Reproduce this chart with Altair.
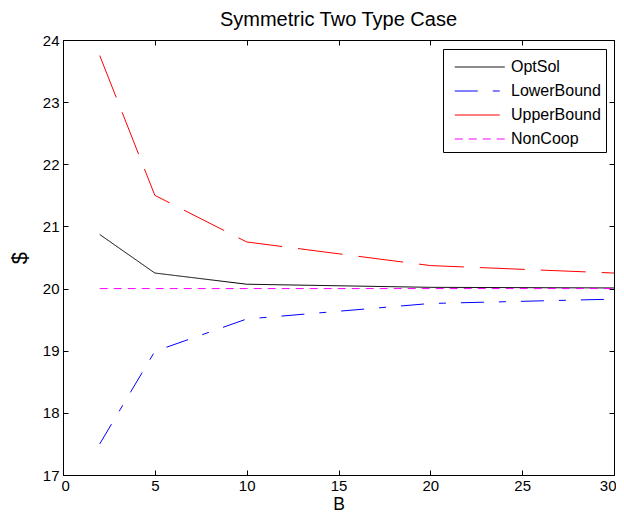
import altair as alt
import pandas as pd

B = [2, 5, 10, 20, 30]
opt_sol = [20.87, 20.25, 20.07, 20.02, 20.01]
lower_bound = [17.5, 18.99, 19.51, 19.76, 19.83]
upper_bound = [23.75, 21.5, 20.75, 20.37, 20.25]
non_coop = [20.0, 20.0, 20.0, 20.0, 20.0]

x_ticks = [0, 5, 10, 15, 20, 25, 30]
y_ticks = [17, 18, 19, 20, 21, 22, 23, 24]

series_names = ["OptSol", "LowerBound", "UpperBound", "NonCoop"]
series_colors = ["#000000", "#0000ff", "#ff0000", "#ff00ff"]
series_dash = [[1, 0], [23, 15, 7, 15], [45, 16], [8, 6]]

rows = []
for name, vals in zip(series_names, [opt_sol, lower_bound, upper_bound, non_coop]):
    for b, v in zip(B, vals):
        rows.append({"B": b, "value": v, "series": name})
df = pd.DataFrame(rows)

FONT = "Liberation Sans"

xscale = alt.Scale(domain=[0, 30], nice=False, zero=False)
yscale = alt.Scale(domain=[17, 24], nice=False, zero=False)

legend_cfg = dict(title=None, orient="none", legendX=380, legendY=9,
                  symbolType="M-0.5,0H3.5", symbolSize=625,
                  symbolStrokeWidth=1, labelFontSize=16,
                  labelFont=FONT, labelColor="black",
                  strokeColor="black", fillColor="white",
                  padding=5, rowPadding=3, labelOffset=37)

main = alt.Chart(df).mark_line(strokeWidth=1, clip=True).encode(
    x=alt.X("B:Q", scale=xscale,
            axis=alt.Axis(title="B", values=x_ticks, orient="bottom",
                          offset=-5, tickSize=5, domain=False, grid=False,
                          labelPadding=3, titlePadding=2, labelFontSize=15,
                          titleFontSize=17.5, titleFontWeight="normal",
                          labelColor="black", titleColor="black", tickColor="black",
                          labelFont=FONT, titleFont=FONT,
                          labelFlush=True, labelFlushOffset=2)),
    y=alt.Y("value:Q", scale=yscale,
            axis=alt.Axis(title="$", values=y_ticks, orient="left",
                          offset=-5, tickSize=5, domain=False, grid=False,
                          labelPadding=4, titlePadding=11, labelFontSize=15,
                          titleFontSize=22, titleFontWeight="normal",
                          labelColor="black", titleColor="black", tickColor="black",
                          labelFont=FONT, titleFont=FONT, labelFlush=False)),
    color=alt.Color("series:N", scale=alt.Scale(domain=series_names, range=series_colors),
                    legend=alt.Legend(**legend_cfg)),
    strokeDash=alt.StrokeDash("series:N", scale=alt.Scale(domain=series_names, range=series_dash),
                              legend=alt.Legend(**legend_cfg)),
    detail="series:N",
)


def ghost(x_axis, y_axis):
    return alt.Chart(df).mark_line(opacity=0).encode(
        x=alt.X("B:Q", scale=xscale, axis=x_axis),
        y=alt.Y("value:Q", scale=yscale, axis=y_axis),
        detail="series:N",
    )


tick_frame = ghost(
    alt.Axis(title=None, values=x_ticks, orient="top", offset=-5, tickSize=5,
             domain=False, grid=False, labels=False, tickColor="black"),
    alt.Axis(title=None, values=y_ticks, orient="right", offset=-5, tickSize=5,
             domain=False, grid=False, labels=False, tickColor="black"),
)
domain_bl = ghost(
    alt.Axis(title=None, orient="bottom", ticks=False, labels=False, grid=False,
             domain=True, domainColor="black", domainWidth=1),
    alt.Axis(title=None, orient="left", ticks=False, labels=False, grid=False,
             domain=True, domainColor="black", domainWidth=1),
)
domain_tr = ghost(
    alt.Axis(title=None, orient="top", ticks=False, labels=False, grid=False,
             domain=True, domainColor="black", domainWidth=1),
    alt.Axis(title=None, orient="right", ticks=False, labels=False, grid=False,
             domain=True, domainColor="black", domainWidth=1),
)

chart = alt.layer(main, tick_frame, domain_bl, domain_tr).resolve_axis(
    x="independent", y="independent"
).properties(
    width=551,
    height=435,
    title=alt.TitleParams("Symmetric Two Type Case", fontSize=20, font=FONT,
                          fontWeight="normal", color="black", offset=3, anchor="middle"),
    autosize=alt.AutoSizeParams(type="none"),
    padding={"left": 55, "top": 32, "right": 2, "bottom": 40},
).configure_view(stroke=None).configure(background="white")

chart.save("out.html", embed_options={"renderer": "svg", "actions": False})
